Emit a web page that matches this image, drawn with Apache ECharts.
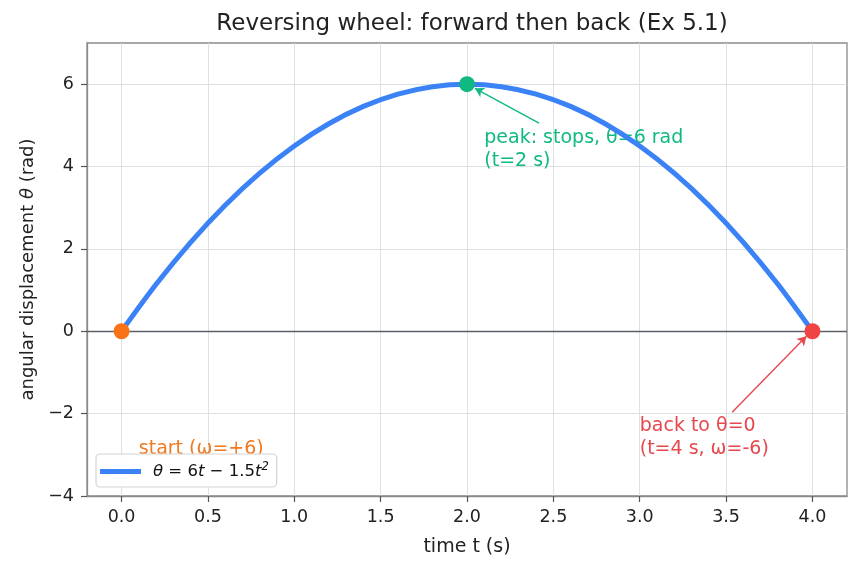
<!DOCTYPE html>
<html><head><meta charset="utf-8">
<script src="https://cdn.jsdelivr.net/npm/echarts@6/dist/echarts.min.js"></script>
<style>html,body{margin:0;padding:0;background:#fff}#c{width:860px;height:569px}</style>
</head><body><div id="c"></div>
<script>
const tValues = [0,0.2,0.4,0.6,0.8,1.0,1.2,1.4,1.6,1.8,2.0,2.2,2.4,2.6,2.8,3.0,3.2,3.4,3.6,3.8,4.0];
const thetaValues = [0,1.14,2.16,3.06,3.84,4.5,5.04,5.46,5.76,5.94,6,5.94,5.76,5.46,5.04,4.5,3.84,3.06,2.16,1.14,0];
const xTicks = [0,0.5,1,1.5,2,2.5,3,3.5,4];
const yTicks = [-4,-2,0,2,4,6];
const keyPoints = [[0,0],[2,6],[4,0]];
const keyColors = ['#f97316','#10b981','#ef4444'];
const annotations = [
  {pos:[0.1,-3], text:'start (ω=+6)', color:'#f07a22'},
  {pos:[2.1,4], text:'peak: stops, θ=6 rad\n(t=2 s)', color:'#10b981'},
  {pos:[3.0,-3], text:'back to θ=0\n(t=4 s, ω=-6)', color:'#e5484d'}
];
const arrows = [
  {from:[2.417,5.056], to:[2.046,5.90], color:'#10b981'},
  {from:[3.535,-1.968], to:[3.965,-0.122], color:'#e5484d'}
];
const FONT = 'DejaVu Sans';
const fmtMinus = v => (v < 0 ? '\u2212' + Math.abs(v) : String(v));

const chart = echarts.init(document.getElementById('c'), null, {renderer:'canvas'});
const option = {
  animation:false,
  textStyle:{fontFamily:FONT},
  title:{text:'Reversing wheel: forward then back (Ex 5.1)', left:467, top:8, textAlign:'center',
    textStyle:{fontFamily:FONT, fontSize:23, fontWeight:'normal', color:'#222'}},
  grid:{left:87, right:13, top:43, bottom:73, show:true, borderColor:'#8a8a8a', borderWidth:1.3},
  legend:{left:96, bottom:82, orient:'vertical', itemWidth:41, itemHeight:5, itemGap:0,
    padding:[7,8,7,4], borderColor:'#d4d4d4', borderWidth:1.2, borderRadius:4, backgroundColor:'rgba(255,255,255,0.92)',
    icon:'rect', data:['curve'],
    formatter: () => '{p|}{i|θ}{n| = 6}{i|t}{n| − 1.5}{i|t}{s|2}',
    textStyle:{fontFamily:FONT, fontSize:16.5, color:'#111',
      rich:{p:{width:7}, i:{fontStyle:'italic', fontFamily:FONT, fontSize:16.5, color:'#111'}, n:{fontFamily:FONT, fontSize:16.5, color:'#111'}, s:{fontSize:11.5, fontStyle:'italic', color:'#111', verticalAlign:'top', padding:[0,0,9,0]}}}},
  xAxis:{type:'value', min:-0.2, max:4.2,
    name:'time t (s)', nameLocation:'middle', nameGap:42,
    nameTextStyle:{fontFamily:FONT, fontSize:19, color:'#222'},
    axisLine:{show:true, onZero:false, lineStyle:{color:'#8a8a8a', width:1.3}},
    axisTick:{show:true, length:6, lineStyle:{color:'#555', width:1.2}, customValues:xTicks},
    axisLabel:{customValues:xTicks, formatter:v=>v.toFixed(1), fontFamily:FONT, fontSize:17.5, color:'#222', margin:12},
    splitLine:{show:true, lineStyle:{color:'#d9dee3', width:0.9}}},
  yAxis:{type:'value', min:-4, max:7,
    name:'{a|angular displacement }{b|θ}{a| (rad)}', nameLocation:'middle', nameGap:44, nameRotate:90,
    nameTextStyle:{fontFamily:FONT, fontSize:18, color:'#222', rich:{a:{fontFamily:FONT,fontSize:18,color:'#222'}, b:{fontFamily:FONT,fontSize:18,fontStyle:'italic',color:'#222'}}},
    axisLine:{show:true, onZero:false, lineStyle:{color:'#8a8a8a', width:1.3}},
    axisTick:{show:true, length:6, lineStyle:{color:'#555', width:1.2}, customValues:yTicks},
    axisLabel:{customValues:yTicks, formatter:fmtMinus, fontFamily:FONT, fontSize:17.5, color:'#222', margin:13},
    splitLine:{show:true, lineStyle:{color:'#d9dee3', width:0.9}}},
  series:[
    {name:'curve', type:'line', data:tValues.map((t,i)=>[t,thetaValues[i]]), smooth:0.3,
      showSymbol:false, lineStyle:{color:'#3b82f6', width:5}, itemStyle:{color:'#3b82f6'}, z:3,
      emphasis:{disabled:true},
      markLine:{silent:true, symbol:'none', label:{show:false},
        lineStyle:{color:'#5a6066', width:1.3, type:'solid'}, data:[{yAxis:0}]}},
    {name:'arrows', type:'scatter', data:[], 
      markLine:{silent:true, symbol:['none','arrow'], symbolSize:[8,9], label:{show:false},
        data: arrows.map(a=>[{coord:a.from, lineStyle:{color:a.color, width:1.4, type:'solid'}, itemStyle:{color:a.color}},{coord:a.to}])}},
    {name:'points', type:'scatter', symbolSize:16, z:5, emphasis:{disabled:true},
      itemStyle:{opacity:1},
      data: keyPoints.map((p,i)=>({value:p, itemStyle:{color:keyColors[i], opacity:1}}))},
    {name:'notes', type:'scatter', symbolSize:0, z:2, emphasis:{disabled:true}, itemStyle:{opacity:1},
      data: annotations.map(a=>({value:a.pos, label:{show:true, formatter:a.text, color:a.color}})),
      label:{show:true, position:[0,0], align:'left', verticalAlign:'bottom', offset:[0,6], fontFamily:FONT, fontSize:19, lineHeight:23, opacity:1}}
  ]
};
chart.setOption(option);
</script></body></html>
